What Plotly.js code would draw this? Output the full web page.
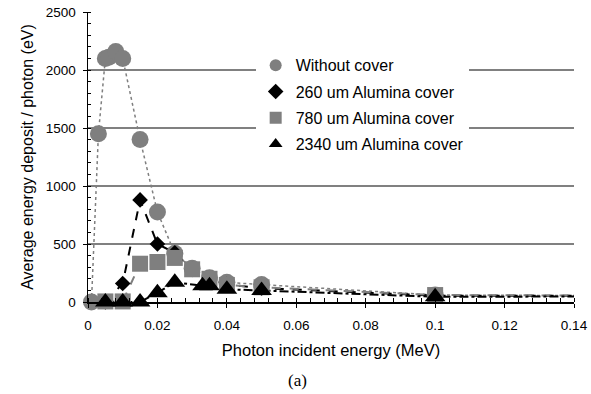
<!DOCTYPE html>
<html>
<head>
<meta charset="utf-8">
<script src="https://cdn.plot.ly/plotly-3.0.1.min.js"></script>
<style>html,body{margin:0;padding:0;background:#fff;}#chart{width:591px;height:394px;}</style>
</head>
<body>
<div id="chart"></div>
<script>
// Photon incident energy (MeV) and average energy deposit per photon (eV)
const seriesNames = ["Without cover", "260 um Alumina cover", "780 um Alumina cover", "2340 um Alumina cover"];

const xNoCover = [0.001, 0.003, 0.005, 0.006, 0.008, 0.01, 0.015, 0.02, 0.025, 0.03, 0.035, 0.04, 0.05, 0.1, 0.2];
const yNoCover = [0, 1450, 2100, 2110, 2160, 2100, 1400, 775, 420, 290, 210, 170, 150, 60, 50];

const x260 = [0.005, 0.01, 0.015, 0.02, 0.025, 0.03, 0.035, 0.04, 0.05, 0.1, 0.2];
const y260 = [0, 160, 880, 500, 425, 280, 190, 150, 120, 55, 50];

const x780 = [0.005, 0.01, 0.015, 0.02, 0.025, 0.03, 0.035, 0.04, 0.05, 0.1, 0.2];
const y780 = [5, 5, 330, 345, 380, 282, 200, 147, 127, 60, 50];

const x2340 = [0.005, 0.01, 0.015, 0.02, 0.025, 0.033, 0.035, 0.04, 0.05, 0.1, 0.2];
const y2340 = [0, 0, 0, 80, 170, 140, 140, 110, 100, 45, 50];

const xTicks = [0, 0.02, 0.04, 0.06, 0.08, 0.1, 0.12, 0.14];
const xTickLabels = ["0", "0.02", "0.04", "0.06", "0.08", "0.1", "0.12", "0.14"];
const yTicks = [0, 500, 1000, 1500, 2000, 2500];
const yTickLabels = ["0", "500", "1000", "1500", "2000", "2500"];

const XMAX = 0.14;
const grey = "#7f7f7f";

const styles = [
  {color: grey, symbol: "circle", size: 17, line: {color: grey, width: 1.5, dash: "dot"}},
  {color: "#000000", symbol: "diamond", size: 12, line: {color: "#000000", width: 2, dash: "dash"}},
  {color: grey, symbol: "square", size: 16, line: {color: grey, width: 2, dash: "dash"}},
  {color: "#000000", symbol: "triangle-up", size: 18, line: {color: "#000000", width: 2, dash: "dashdot"}}
];
const xs = [xNoCover, x260, x780, x2340];
const ys = [yNoCover, y260, y780, y2340];

const traces = [];
for (let i = 0; i < 4; i++) {
  traces.push({
    type: "scatter", mode: "lines", x: xs[i], y: ys[i],
    line: styles[i].line, showlegend: false, hoverinfo: "skip", cliponaxis: true,
    legendgroup: "g" + i
  });
}
for (let i = 0; i < 4; i++) {
  const mx = [], my = [];
  xs[i].forEach((v, k) => { if (v <= XMAX) { mx.push(v); my.push(ys[i][k]); } });
  traces.push({
    type: "scatter", mode: "markers", x: mx, y: my, name: seriesNames[i],
    marker: {color: styles[i].color, symbol: styles[i].symbol, size: styles[i].size, line: {width: 0}},
    cliponaxis: false, showlegend: true, legendgroup: "g" + i
  });
}

const layout = {
  width: 591, height: 394,
  margin: {l: 88, r: 17, t: 12, b: 92},
  paper_bgcolor: "#ffffff", plot_bgcolor: "#ffffff",
  font: {family: "Liberation Sans, Arial, sans-serif", size: 13, color: "#000000"},
  xaxis: {
    range: [0, XMAX], tickvals: xTicks, ticktext: xTickLabels,
    showline: true, linecolor: "#000000", linewidth: 1.5,
    showgrid: false, zeroline: false,
    ticks: "outside", ticklen: 4, tickcolor: "#000000", tickwidth: 1,
    minor: {dtick: 0.004, tick0: 0, ticks: "inside", ticklen: 4, tickcolor: "#000000", tickwidth: 1, showgrid: false},
    tickfont: {size: 13.5}, ticklabelstandoff: 6,
    title: {text: "Photon incident energy (MeV)", font: {size: 16.5}, standoff: 12},
    automargin: false
  },
  yaxis: {
    range: [0, 2500], tickvals: yTicks, ticktext: yTickLabels,
    showline: true, linecolor: "#000000", linewidth: 1.5,
    showgrid: true, gridcolor: "#808080", gridwidth: 1.5, zeroline: false,
    ticks: "outside", ticklen: 4, tickcolor: "#000000", tickwidth: 1,
    minor: {dtick: 100, tick0: 0, ticks: "inside", ticklen: 3, tickcolor: "#000000", tickwidth: 1, showgrid: false},
    tickfont: {size: 13.5}, ticklabelstandoff: 4,
    title: {text: "Average energy deposit / photon (eV)", font: {size: 16}, standoff: 8},
    automargin: false
  },
  legend: {
    x: 0.345, xanchor: "left", y: 0.875, yanchor: "top",
    bgcolor: "#ffffff", borderwidth: 0,
    font: {size: 16}, itemsizing: "constant", traceorder: "grouped",
    tracegroupgap: 2.5,
    entrywidth: 190, entrywidthmode: "pixels"
  },
  annotations: [{
    text: "(a)", xref: "paper", yref: "paper", x: 0.432, y: -0.269,
    xanchor: "center", yanchor: "middle", showarrow: false,
    font: {family: "Liberation Serif, Times New Roman, serif", size: 17, color: "#000000"}
  }]
};

Plotly.newPlot("chart", traces, layout, {displayModeBar: false, staticPlot: true});
</script>
</body>
</html>
